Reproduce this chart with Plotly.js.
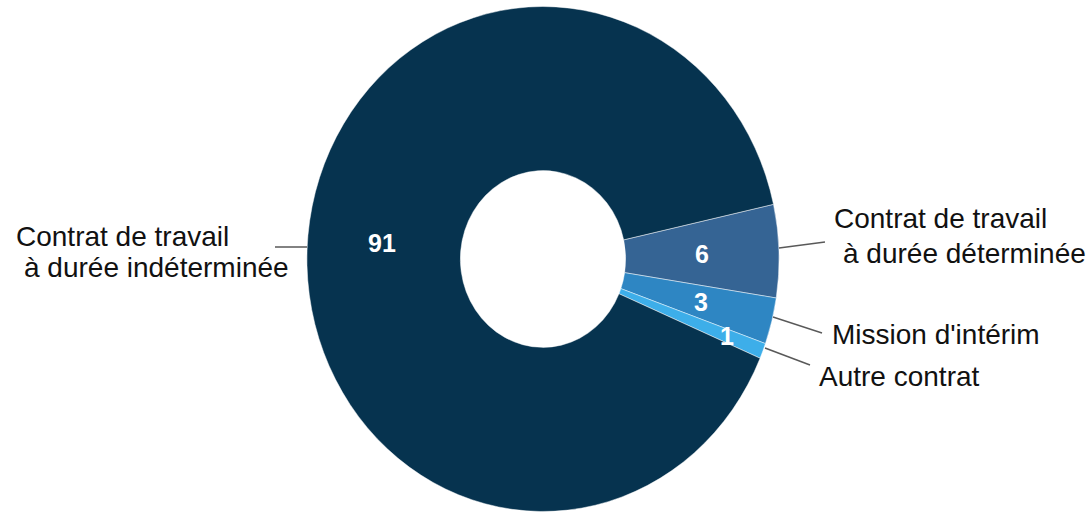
<!DOCTYPE html>
<html>
<head>
<meta charset="utf-8">
<script src="https://cdn.plot.ly/plotly-3.0.1.min.js"></script>
<style>
  html, body { margin: 0; padding: 0; background: #ffffff; }
  #chart { width: 1091px; height: 513px; }
</style>
</head>
<body>
<div id="chart"></div>
<script>
// ---- data ----
const categories = [
  "Contrat de travail à durée déterminée",
  "Mission d'intérim",
  "Autre contrat",
  "Contrat de travail à durée indéterminée"
];
const values = [6, 3, 1, 91];
const colors = ["#356494", "#2e86c3", "#3daee9", "#06334f"];

// ---- geometry (pixels, page coords) ----
const W = 1091, H = 513;
const cx = 543, cy = 259, R = 252.5;
const xScale = 0.935;                 // the reference donut is slightly narrower than tall
const rotationDeg = 77.5;             // start of first slice, clockwise from 12 o'clock
const labelRadius = [0.675, 0.69, 0.835, 0.685];

const px = x => x / W;
const py = y => 1 - y / H;

// value labels positioned at slice mid-angles computed from the data
const total = values.reduce((a, b) => a + b, 0);
const numberAnnotations = [];
let acc = 0;
values.forEach((v, i) => {
  const mid = (rotationDeg + (acc + v / 2) / total * 360) * Math.PI / 180;
  acc += v;
  const r = R * labelRadius[i];
  const x = cx + xScale * r * Math.sin(mid);
  const y = cy - r * Math.cos(mid);
  numberAnnotations.push({
    x: px(x), y: py(y), xref: "paper", yref: "paper",
    xanchor: "center", yanchor: "middle", showarrow: false,
    text: "<b>" + v + "</b>",
    font: { family: "Liberation Sans, Arial, sans-serif", size: 25, color: "#ffffff" }
  });
});

// outside category labels (one annotation per line)
const labelFont = { family: "Liberation Sans, Arial, sans-serif", size: 28, color: "#111111" };
const outsideLines = [
  { text: "Contrat de travail", x: 14, y: 236 },
  { text: "à durée indéterminée", x: 22, y: 267 },
  { text: "Contrat de travail", x: 832, y: 219 },
  { text: "à durée déterminée", x: 841, y: 253 },
  { text: "Mission d'intérim", x: 830, y: 334 },
  { text: "Autre contrat", x: 817, y: 376 }
];
const labelAnnotations = outsideLines.map(l => ({
  x: px(l.x), y: py(l.y), xref: "paper", yref: "paper",
  xanchor: "left", yanchor: "middle", showarrow: false,
  text: l.text, font: labelFont
}));

// leader lines
const leaders = [
  [275, 247, 307, 247],
  [779, 248, 825, 242],
  [773, 317, 822, 333],
  [765, 348, 810, 365]
];
const shapes = leaders.map(s => ({
  type: "line", xref: "paper", yref: "paper",
  x0: px(s[0]), y0: py(s[1]), x1: px(s[2]), y1: py(s[3]),
  line: { color: "#595959", width: 1.5 }
}));

const trace = {
  type: "pie",
  labels: categories,
  values: values,
  sort: false,
  direction: "clockwise",
  rotation: rotationDeg,
  hole: 0.35,
  textinfo: "none",
  hoverinfo: "label+value",
  marker: { colors: colors, line: { color: "rgba(255,255,255,0.6)", width: 0.8 } },
  domain: {
    x: [px(cx - R), px(cx + R)],
    y: [1 - (cy + R) / H, 1 - (cy - R) / H]
  },
  showlegend: false
};

const layout = {
  width: W, height: H,
  margin: { l: 0, r: 0, t: 0, b: 0 },
  paper_bgcolor: "#ffffff",
  showlegend: false,
  annotations: numberAnnotations.concat(labelAnnotations),
  shapes: shapes
};

Plotly.newPlot("chart", [trace], layout, { displayModeBar: false, staticPlot: true }).then(gd => {
  // squeeze the donut horizontally around its centre to match the reference's proportions
  const pl = gd.querySelector(".pielayer");
  if (pl) {
    pl.setAttribute("transform",
      "translate(" + cx + ",0) scale(" + xScale + ",1) translate(" + (-cx) + ",0)");
  }
});
</script>
</body>
</html>
